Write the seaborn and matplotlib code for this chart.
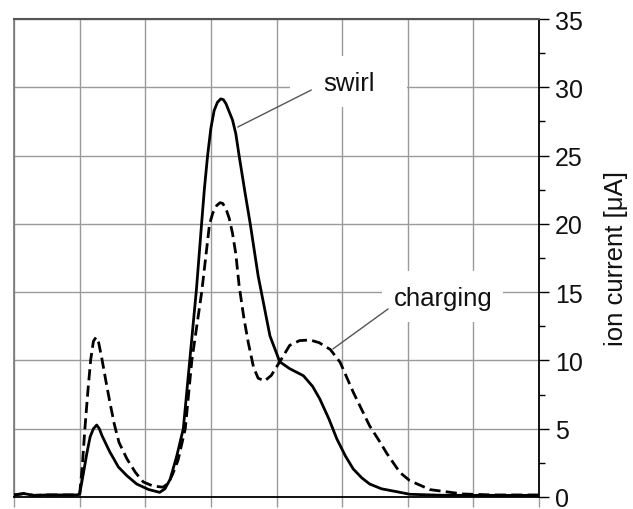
import matplotlib
matplotlib.use("Agg")
import matplotlib.pyplot as plt
from matplotlib.patches import Rectangle
from matplotlib.ticker import MultipleLocator, NullFormatter
import numpy as np
import pandas as pd
import seaborn as sns

# ion current traces (x in grid divisions, y in µA)
swirl_x = [0.0, 0.15, 0.3, 0.5, 0.7, 0.95, 1.0, 1.06, 1.11, 1.16, 1.21, 1.26, 1.30, 1.34,
           1.40, 1.46, 1.52, 1.59, 1.72, 1.87, 2.05, 2.22, 2.30, 2.38, 2.48, 2.58, 2.68,
           2.78, 2.86, 2.90, 2.95, 3.00, 3.05, 3.10, 3.15, 3.19, 3.23, 3.28, 3.33, 3.38,
           3.43, 3.52, 3.60, 3.72, 3.80, 3.90, 4.05, 4.20, 4.41, 4.55, 4.66, 4.80, 4.92,
           5.05, 5.17, 5.30, 5.42, 5.60, 5.83, 6.03, 6.50, 7.00, 7.50, 8.00]
swirl_y = [0.15, 0.25, 0.12, 0.15, 0.15, 0.15, 0.2, 1.8, 3.2, 4.4, 5.0, 5.27, 5.0, 4.5,
           3.9, 3.3, 2.8, 2.2, 1.56, 0.95, 0.55, 0.34, 0.6, 1.3, 3.0, 5.0, 10.1,
           15.2, 20.1, 22.5, 25.0, 27.0, 28.3, 28.9, 29.15, 29.1, 28.8, 28.2, 27.6, 26.6,
           25.0, 22.3, 20.0, 16.2, 14.25, 11.8, 9.9, 9.4, 8.88, 8.1, 7.18, 5.7, 4.25,
           3.0, 2.05, 1.4, 0.95, 0.6, 0.39, 0.2, 0.13, 0.12, 0.12, 0.12]

charging_x = [0.0, 0.15, 0.3, 0.5, 0.7, 0.95, 1.0, 1.04, 1.08, 1.13, 1.17, 1.21, 1.25,
              1.29, 1.34, 1.40, 1.46, 1.53, 1.60, 1.72, 1.85, 1.97, 2.12, 2.27, 2.35,
              2.42, 2.50, 2.61, 2.71, 2.86, 2.98, 3.03, 3.09, 3.14, 3.18, 3.23, 3.28,
              3.33, 3.38, 3.43, 3.50, 3.57, 3.65, 3.72, 3.82, 3.92, 4.05, 4.20, 4.35,
              4.51, 4.65, 4.82, 4.97, 5.17, 5.42, 5.58, 5.68, 5.88, 6.03, 6.34, 6.84,
              7.30, 7.70, 8.00]
charging_y = [0.15, 0.25, 0.12, 0.15, 0.15, 0.15, 0.2, 2.2, 5.0, 8.0, 10.1, 11.4, 11.7,
              11.3, 10.1, 8.5, 6.96, 5.3, 4.0, 2.8, 1.8, 1.1, 0.8, 0.72, 1.0,
              1.7, 2.7, 5.0, 10.0, 15.0, 20.0, 20.8, 21.35, 21.55, 21.5, 21.1, 20.4,
              19.3, 17.8, 15.5, 13.2, 11.3, 9.5, 8.7, 8.5, 8.9, 9.9, 11.1, 11.45,
              11.5, 11.3, 10.8, 9.86, 7.67, 5.2, 4.0, 3.2, 1.8, 1.2, 0.54, 0.22,
              0.15, 0.15, 0.15]

series_names = ["swirl", "charging"]

df = pd.concat([
    pd.DataFrame({"x": swirl_x, "y": swirl_y, "series": "swirl"}),
    pd.DataFrame({"x": charging_x, "y": charging_y, "series": "charging"}),
], ignore_index=True)

sns.set_theme(style="white")
plt.rcParams["font.family"] = ["Liberation Sans", "DejaVu Sans"]

fig = plt.figure(figsize=(6.33, 5.10), dpi=100)
ax = fig.add_axes([14 / 633, 1 - 498 / 510, (539 - 14) / 633, (498 - 20) / 510])

sns.lineplot(data=df, x="x", y="y", style="series", style_order=series_names,
             dashes={"swirl": "", "charging": (4.0, 1.9)}, color="black",
             linewidth=2.0, estimator=None, sort=False, legend=False, ax=ax,
             zorder=3)
for ln in ax.lines:
    ln.set_solid_joinstyle("round")
    ln.set_dash_joinstyle("round")

ax.set_xlim(0, 8)
ax.set_ylim(0, 35)
ax.set_xlabel("")

# grid
ax.xaxis.set_major_locator(MultipleLocator(1))
ax.xaxis.set_major_formatter(NullFormatter())
ax.yaxis.set_major_locator(MultipleLocator(5))
ax.yaxis.set_minor_locator(MultipleLocator(2.5))
ax.grid(True, which="major", color="#9a9a9a", linewidth=1.0)
ax.set_axisbelow(True)

# y axis on the right
ax.yaxis.tick_right()
ax.yaxis.set_label_position("right")
ax.tick_params(axis="y", which="major", right=True, left=False, direction="out",
               length=7.5, width=1.0, color="black", labelsize=18, pad=4,
               labelcolor="#111111")
ax.tick_params(axis="y", which="minor", right=True, left=False, direction="out",
               length=4.5, width=1.0, color="black")
ax.tick_params(axis="x", which="major", bottom=True, direction="out", length=7,
               width=1.0, color="#9a9a9a")
ax.set_ylabel("ion current [μA]", fontsize=18.5, labelpad=15, color="#111111")

for side, col, lw in [("top", "#555555", 1.5), ("left", "#777777", 1.2),
                      ("bottom", "black", 1.3), ("right", "black", 1.3)]:
    ax.spines[side].set_visible(True)
    ax.spines[side].set_color(col)
    ax.spines[side].set_linewidth(lw)

# label boxes that mask the grid behind the annotations
ax.add_patch(Rectangle((4.21, 28.56), 1.78, 3.73, facecolor="white",
                       edgecolor="none", zorder=1))
ax.add_patch(Rectangle((5.61, 12.81), 1.84, 3.74, facecolor="white",
                       edgecolor="none", zorder=1))

ax.text(5.10, 30.3, "swirl", fontsize=18.5, ha="center", va="center",
        color="#111111", zorder=4)
ax.text(6.54, 14.55, "charging", fontsize=18.5, ha="center", va="center",
        color="#111111", zorder=4)

leader = dict(arrowstyle="-", color="#555555", linewidth=1.0, shrinkA=0, shrinkB=0)
ax.annotate("", xy=(3.41, 27.09), xytext=(4.53, 29.8), arrowprops=leader, zorder=4)
ax.annotate("", xy=(4.86, 10.84), xytext=(5.70, 13.77), arrowprops=leader, zorder=4)

fig.savefig("out.png", dpi=100)
